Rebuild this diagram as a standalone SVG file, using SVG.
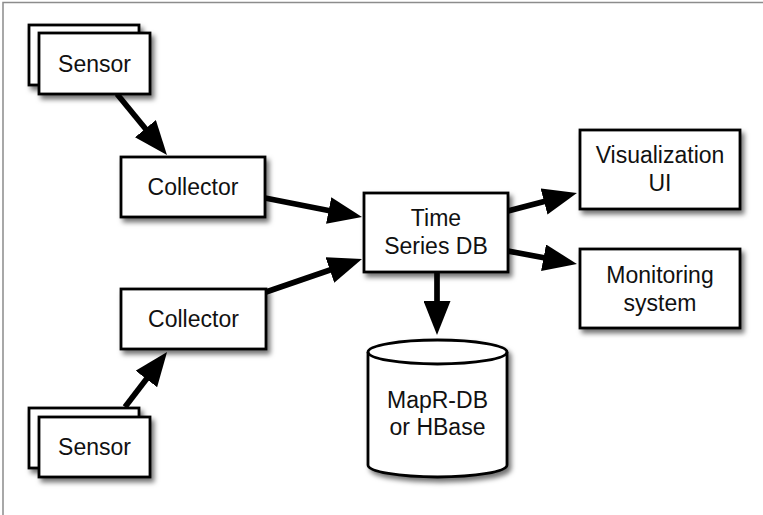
<svg xmlns="http://www.w3.org/2000/svg" width="763" height="515" viewBox="0 0 763 515">
  <style>
    .box { fill: #ffffff; stroke: #000000; stroke-width: 2.8; filter: url(#shadow); }
    .label { font-family: "Liberation Sans", Arial, sans-serif; font-size: 23px; fill: #111111; text-anchor: middle; }
    .edge { stroke: #000000; stroke-width: 5.7; fill: none; marker-end: url(#head); }
  </style>
  <defs>
    <filter id="shadow" x="-20%" y="-20%" width="150%" height="160%">
      <feDropShadow dx="3" dy="4" stdDeviation="2.5" flood-color="#000000" flood-opacity="0.55"/>
    </filter>
    <marker id="head" viewBox="0 0 34 27" refX="14" refY="13.5" markerWidth="34" markerHeight="27" markerUnits="userSpaceOnUse" orient="auto">
      <path d="M0,0 L34,13.5 L0,27 Z" fill="#000000"/>
    </marker>
  </defs>

  <!-- page frame -->
  <rect x="3" y="2.5" width="800" height="600" fill="#ffffff" stroke="#8c8c8c" stroke-width="1.5"/>

  <!-- connectors: each line stops 20px short of its arrow tip -->
  <g id="connectors">
    <line class="edge" x1="117" y1="94" x2="154.3" y2="139.5"/>
    <line class="edge" x1="265" y1="198" x2="342.4" y2="213.2"/>
    <line class="edge" x1="266" y1="292" x2="343.1" y2="265.5"/>
    <line class="edge" x1="125" y1="407" x2="154.9" y2="367.9"/>
    <line class="edge" x1="508" y1="211" x2="557.6" y2="198"/>
    <line class="edge" x1="508" y1="251" x2="557.3" y2="260.3"/>
    <line class="edge" x1="437" y1="272" x2="437" y2="315"/>
  </g>

  <g id="sensor-top">
    <rect class="box" x="29" y="25" width="110" height="60"/>
    <rect class="box" x="39" y="33" width="111" height="61"/>
    <text class="label" x="94.5" y="72">Sensor</text>
  </g>

  <g id="sensor-bottom">
    <rect class="box" x="29" y="408" width="110" height="60"/>
    <rect class="box" x="39" y="417" width="111" height="60"/>
    <text class="label" x="94.5" y="455">Sensor</text>
  </g>

  <g id="collector-top">
    <rect class="box" x="121" y="157" width="144" height="60"/>
    <text class="label" x="193" y="195">Collector</text>
  </g>

  <g id="collector-bottom">
    <rect class="box" x="121" y="289" width="145" height="60"/>
    <text class="label" x="193.5" y="327">Collector</text>
  </g>

  <g id="time-series-db">
    <rect class="box" x="364" y="193" width="144" height="79"/>
    <text class="label" x="436" y="226">Time</text>
    <text class="label" x="436" y="254">Series DB</text>
  </g>

  <g id="visualization-ui">
    <rect class="box" x="580" y="130" width="160" height="79"/>
    <text class="label" x="660" y="163">Visualization</text>
    <text class="label" x="660" y="191">UI</text>
  </g>

  <g id="monitoring-system">
    <rect class="box" x="580" y="249" width="160" height="79"/>
    <text class="label" x="660" y="283">Monitoring</text>
    <text class="label" x="660" y="311">system</text>
  </g>

  <g id="mapr-db">
    <path class="box" d="M368,352 L368,465 A69.5,12 0 0 0 507,465 L507,352 A69.5,12 0 0 0 368,352 Z"/>
    <path d="M368,352 A69.5,12 0 0 0 507,352" fill="none" stroke="#000000" stroke-width="2.8"/>
    <text class="label" x="437.5" y="408">MapR-DB</text>
    <text class="label" x="437.5" y="435">or HBase</text>
  </g>
</svg>
